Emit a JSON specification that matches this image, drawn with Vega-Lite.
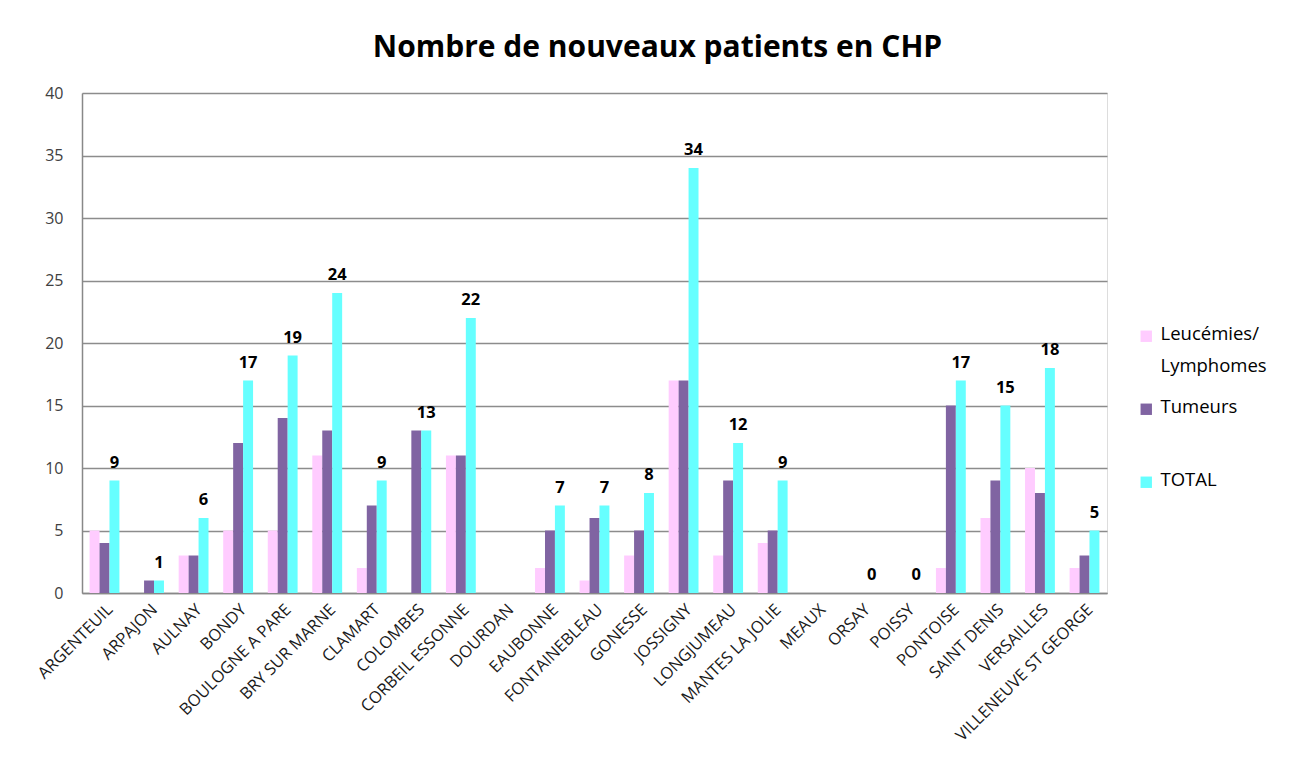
{
  "$schema": "https://vega.github.io/schema/vega-lite/v6.json",
  "width": 1025,
  "height": 500,
  "autosize": {"type": "none"},
  "padding": {"left": 82, "top": 93, "right": 192, "bottom": 185},
  "background": "white",
  "config": {"style": {"guide-label": {"lineHeight": 32}}},
  "title": {"text": "Nombre de nouveaux patients en CHP", "font": "Open Sans", "fontSize": 30, "fontWeight": "bold", "color": "#000000", "anchor": "middle", "dx": 63, "offset": 22},
  "data": {"values": [
    {"site": "ARGENTEUIL", "series": "Leucémies/ Lymphomes", "value": 5},
    {"site": "ARGENTEUIL", "series": "Tumeurs", "value": 4},
    {"site": "ARGENTEUIL", "series": "TOTAL", "value": 9},
    {"site": "ARPAJON", "series": "Leucémies/ Lymphomes", "value": null},
    {"site": "ARPAJON", "series": "Tumeurs", "value": 1},
    {"site": "ARPAJON", "series": "TOTAL", "value": 1},
    {"site": "AULNAY", "series": "Leucémies/ Lymphomes", "value": 3},
    {"site": "AULNAY", "series": "Tumeurs", "value": 3},
    {"site": "AULNAY", "series": "TOTAL", "value": 6},
    {"site": "BONDY", "series": "Leucémies/ Lymphomes", "value": 5},
    {"site": "BONDY", "series": "Tumeurs", "value": 12},
    {"site": "BONDY", "series": "TOTAL", "value": 17},
    {"site": "BOULOGNE A PARE", "series": "Leucémies/ Lymphomes", "value": 5},
    {"site": "BOULOGNE A PARE", "series": "Tumeurs", "value": 14},
    {"site": "BOULOGNE A PARE", "series": "TOTAL", "value": 19},
    {"site": "BRY SUR MARNE", "series": "Leucémies/ Lymphomes", "value": 11},
    {"site": "BRY SUR MARNE", "series": "Tumeurs", "value": 13},
    {"site": "BRY SUR MARNE", "series": "TOTAL", "value": 24},
    {"site": "CLAMART", "series": "Leucémies/ Lymphomes", "value": 2},
    {"site": "CLAMART", "series": "Tumeurs", "value": 7},
    {"site": "CLAMART", "series": "TOTAL", "value": 9},
    {"site": "COLOMBES", "series": "Leucémies/ Lymphomes", "value": null},
    {"site": "COLOMBES", "series": "Tumeurs", "value": 13},
    {"site": "COLOMBES", "series": "TOTAL", "value": 13},
    {"site": "CORBEIL ESSONNE", "series": "Leucémies/ Lymphomes", "value": 11},
    {"site": "CORBEIL ESSONNE", "series": "Tumeurs", "value": 11},
    {"site": "CORBEIL ESSONNE", "series": "TOTAL", "value": 22},
    {"site": "DOURDAN", "series": "Leucémies/ Lymphomes", "value": null},
    {"site": "DOURDAN", "series": "Tumeurs", "value": null},
    {"site": "DOURDAN", "series": "TOTAL", "value": null},
    {"site": "EAUBONNE", "series": "Leucémies/ Lymphomes", "value": 2},
    {"site": "EAUBONNE", "series": "Tumeurs", "value": 5},
    {"site": "EAUBONNE", "series": "TOTAL", "value": 7},
    {"site": "FONTAINEBLEAU", "series": "Leucémies/ Lymphomes", "value": 1},
    {"site": "FONTAINEBLEAU", "series": "Tumeurs", "value": 6},
    {"site": "FONTAINEBLEAU", "series": "TOTAL", "value": 7},
    {"site": "GONESSE", "series": "Leucémies/ Lymphomes", "value": 3},
    {"site": "GONESSE", "series": "Tumeurs", "value": 5},
    {"site": "GONESSE", "series": "TOTAL", "value": 8},
    {"site": "JOSSIGNY", "series": "Leucémies/ Lymphomes", "value": 17},
    {"site": "JOSSIGNY", "series": "Tumeurs", "value": 17},
    {"site": "JOSSIGNY", "series": "TOTAL", "value": 34},
    {"site": "LONGJUMEAU", "series": "Leucémies/ Lymphomes", "value": 3},
    {"site": "LONGJUMEAU", "series": "Tumeurs", "value": 9},
    {"site": "LONGJUMEAU", "series": "TOTAL", "value": 12},
    {"site": "MANTES LA JOLIE", "series": "Leucémies/ Lymphomes", "value": 4},
    {"site": "MANTES LA JOLIE", "series": "Tumeurs", "value": 5},
    {"site": "MANTES LA JOLIE", "series": "TOTAL", "value": 9},
    {"site": "MEAUX", "series": "Leucémies/ Lymphomes", "value": null},
    {"site": "MEAUX", "series": "Tumeurs", "value": null},
    {"site": "MEAUX", "series": "TOTAL", "value": null},
    {"site": "ORSAY", "series": "Leucémies/ Lymphomes", "value": null},
    {"site": "ORSAY", "series": "Tumeurs", "value": null},
    {"site": "ORSAY", "series": "TOTAL", "value": 0},
    {"site": "POISSY", "series": "Leucémies/ Lymphomes", "value": null},
    {"site": "POISSY", "series": "Tumeurs", "value": null},
    {"site": "POISSY", "series": "TOTAL", "value": 0},
    {"site": "PONTOISE", "series": "Leucémies/ Lymphomes", "value": 2},
    {"site": "PONTOISE", "series": "Tumeurs", "value": 15},
    {"site": "PONTOISE", "series": "TOTAL", "value": 17},
    {"site": "SAINT DENIS", "series": "Leucémies/ Lymphomes", "value": 6},
    {"site": "SAINT DENIS", "series": "Tumeurs", "value": 9},
    {"site": "SAINT DENIS", "series": "TOTAL", "value": 15},
    {"site": "VERSAILLES", "series": "Leucémies/ Lymphomes", "value": 10},
    {"site": "VERSAILLES", "series": "Tumeurs", "value": 8},
    {"site": "VERSAILLES", "series": "TOTAL", "value": 18},
    {"site": "VILLENEUVE ST GEORGE", "series": "Leucémies/ Lymphomes", "value": 2},
    {"site": "VILLENEUVE ST GEORGE", "series": "Tumeurs", "value": 3},
    {"site": "VILLENEUVE ST GEORGE", "series": "TOTAL", "value": 5}
  ]},
  "encoding": {
    "x": {"field": "site", "type": "nominal", "sort": null,
      "scale": {"domain": ["ARGENTEUIL", "ARPAJON", "AULNAY", "BONDY", "BOULOGNE A PARE", "BRY SUR MARNE", "CLAMART", "COLOMBES", "CORBEIL ESSONNE", "DOURDAN", "EAUBONNE", "FONTAINEBLEAU", "GONESSE", "JOSSIGNY", "LONGJUMEAU", "MANTES LA JOLIE", "MEAUX", "ORSAY", "POISSY", "PONTOISE", "SAINT DENIS", "VERSAILLES", "VILLENEUVE ST GEORGE"], "paddingInner": 0.33, "paddingOuter": 0.17},
      "axis": {"title": null, "labelAngle": -45, "labelFont": "Open Sans", "labelFontSize": 16.5, "labelColor": "#1a1a1a", "labelLimit": 400, "domainColor": "#888888", "domainWidth": 1.5, "ticks": false, "labelPadding": 8}},
    "y": {"field": "value", "type": "quantitative",
      "scale": {"domain": [0, 40]},
      "axis": {"title": null, "values": [0,5,10,15,20,25,30,35,40], "labelFont": "Open Sans", "labelFontSize": 16, "labelColor": "#404040", "gridColor": "#8c8c8c", "gridWidth": 1.3, "domainColor": "#888888", "domainWidth": 1.5, "ticks": false, "labelPadding": 19}},
    "xOffset": {"field": "series", "type": "nominal", "sort": ["Leucémies/ Lymphomes", "Tumeurs", "TOTAL"]}
  },
  "layer": [
    {
      "mark": {"type": "bar"},
      "encoding": {
        "color": {"field": "series", "type": "nominal",
          "sort": ["Leucémies/ Lymphomes", "Tumeurs", "TOTAL"],
          "scale": {"domain": ["Leucémies/ Lymphomes", "Tumeurs", "TOTAL"], "range": ["#ffccff", "#8064a2", "#66ffff"]},
          "legend": {"title": null, "orient": "none", "legendX": 1055, "legendY": 234, "symbolType": "square", "symbolSize": 130, "symbolStrokeWidth": 0, "labelFont": "Open Sans", "labelFontSize": 18.5, "labelColor": "#000000", "labelBaseline": "top", "gridAlign": "all", "rowPadding": 22, "labelLimit": 300, "labelOffset": 5,
            "labelExpr": "datum.label == 'Leucémies/ Lymphomes' ? ['Leucémies/', '\u2002Lymphomes'] : datum.label",
            "encode": {"labels": {"update": {"dy": {"value": -11}}}}}
        }
      }
    },
    {
      "transform": [{"filter": "datum.series == 'TOTAL' && datum.value != null"}],
      "mark": {"type": "text", "font": "Open Sans", "fontSize": 16.5, "fontWeight": "bold", "color": "#000000", "baseline": "bottom", "dy": -10},
      "encoding": {"text": {"field": "value", "type": "quantitative"}}
    }
  ]
}
